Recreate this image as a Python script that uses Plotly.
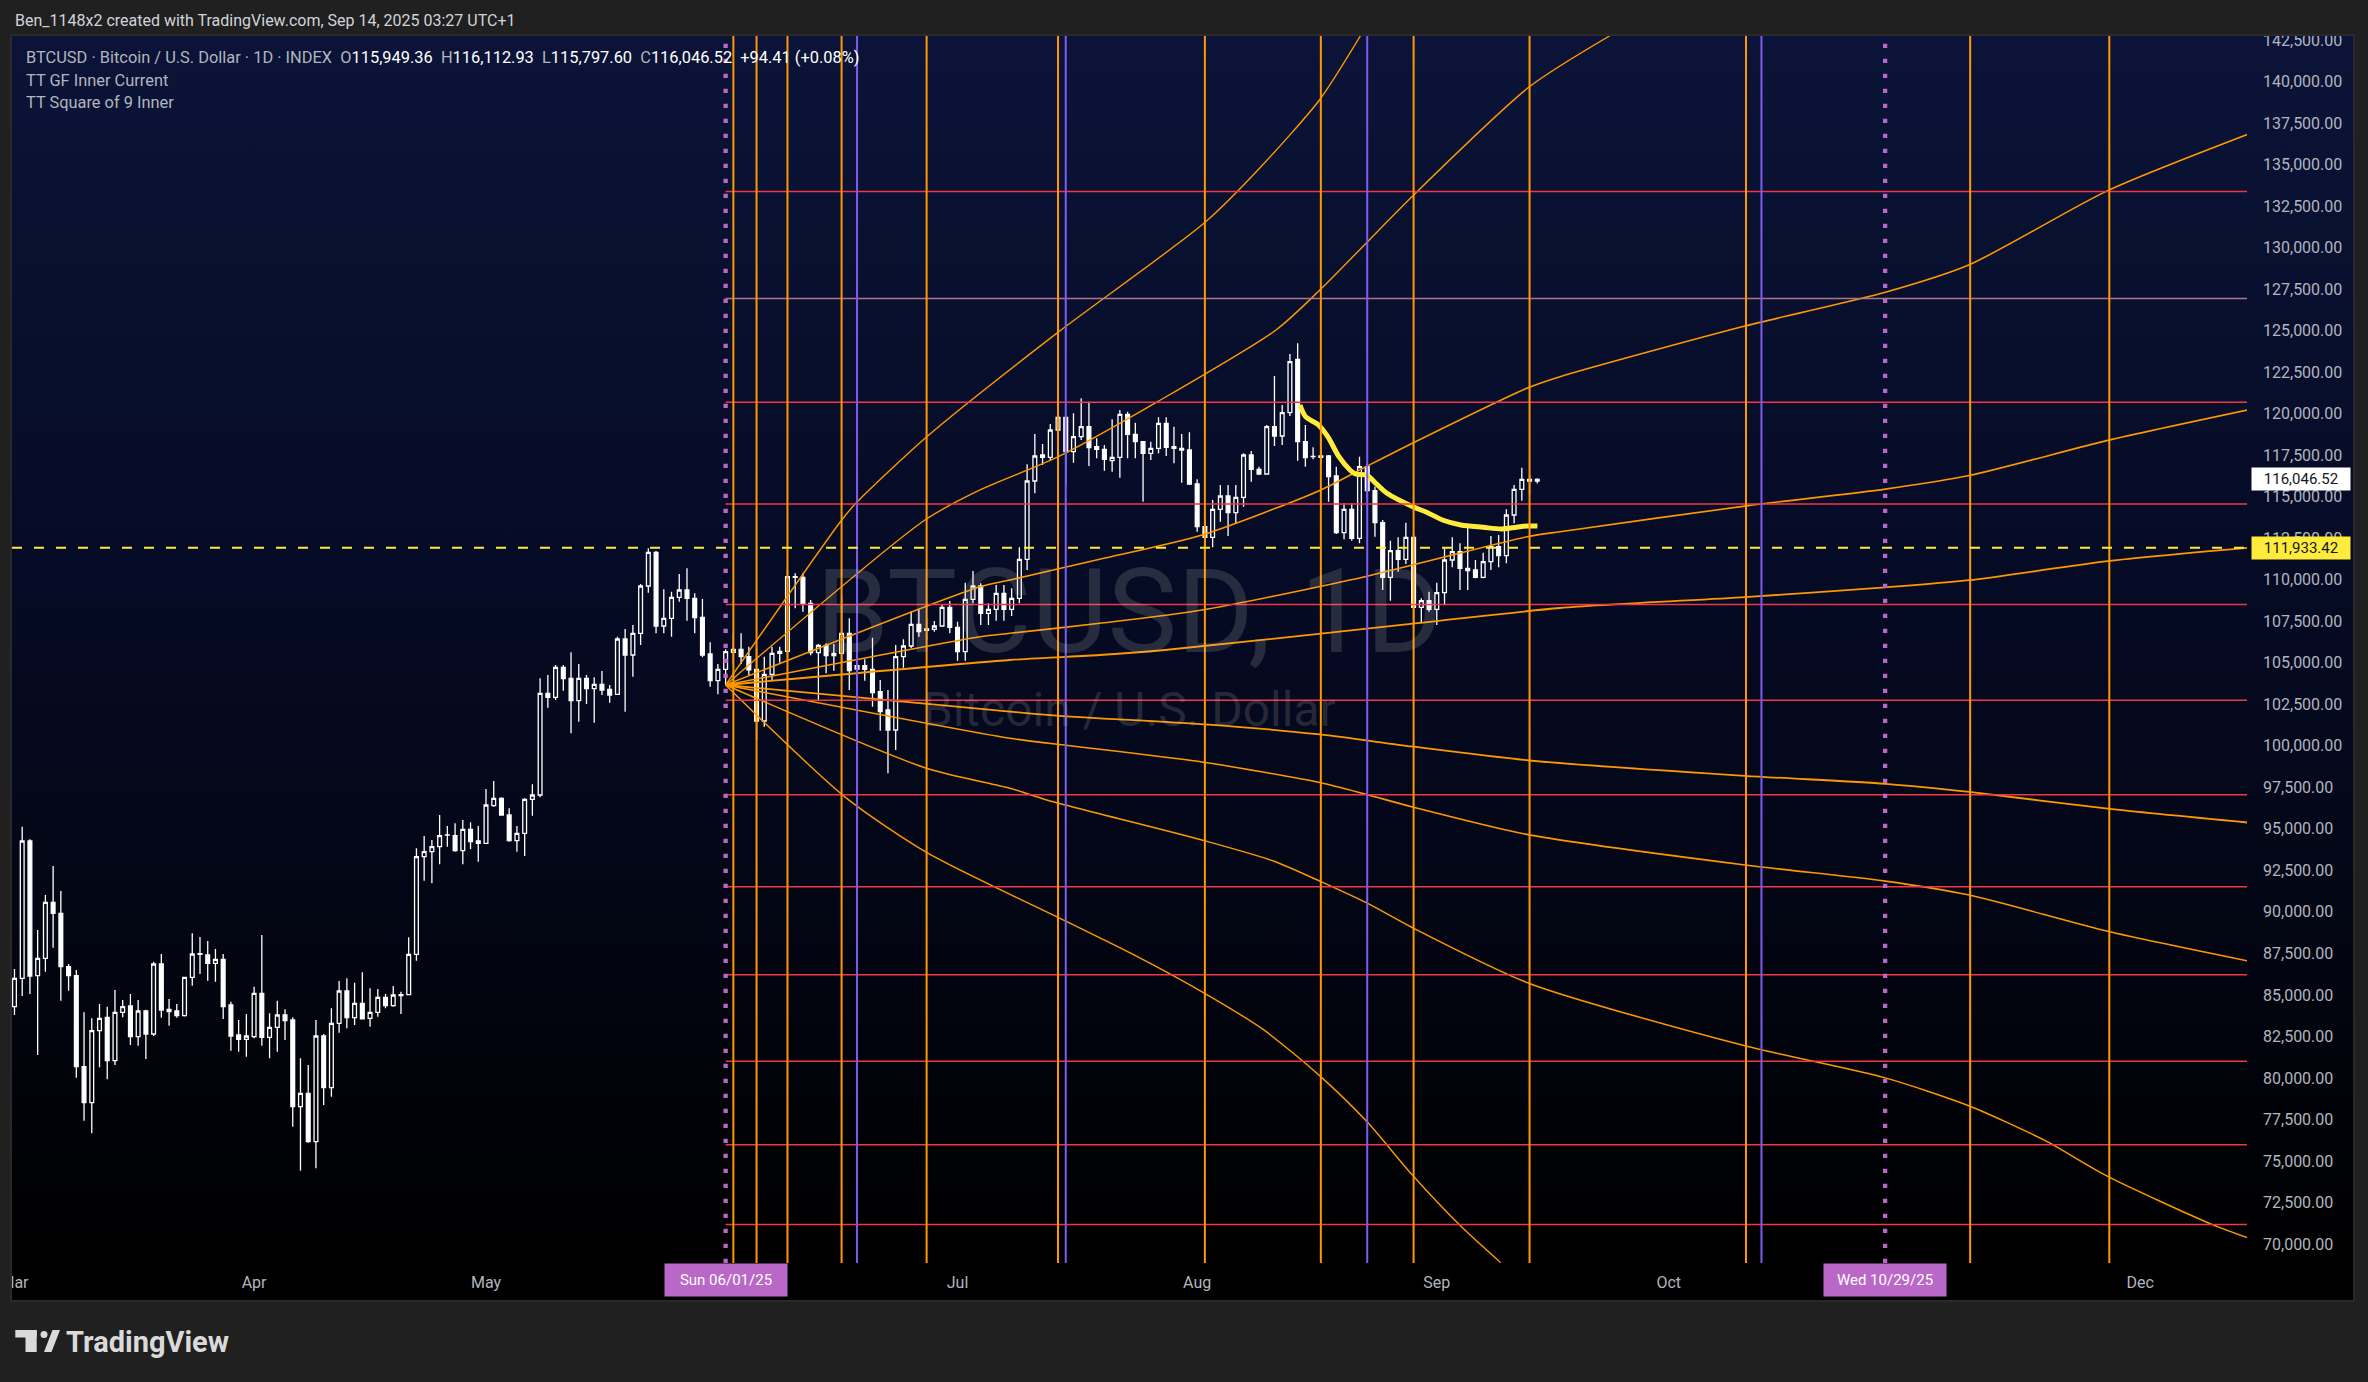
import base64
import pandas as pd
import plotly.graph_objects as go

# ---------------------------------------------------------------- data
FIRST_CANDLE = "2025-03-01"
BASE_DATE = "2025-05-01"          # day offsets below are counted from this date

candle_open = [
    84293, 86000, 94270, 86160, 87204, 90577, 89914, 86702, 86160, 80680,
    78512, 82848, 83651, 81041, 83952, 84333, 82486, 84032, 82647, 86863,
    84133, 84032, 83751, 86060, 87445, 87405, 86903, 87144, 84393, 82587,
    82325, 82486, 85096, 82446, 83048, 83791, 83490, 78270, 79074, 76163,
    82526, 79415, 83289, 85237, 83631, 84494, 83591, 83952, 84855, 84353,
    85016, 85016, 87445, 93327, 93628, 93929, 94632, 94592, 93688, 94973,
    94270, 94130, 96398, 96840, 95836, 94290, 94732, 96780, 97041, 103164,
    102923, 104730, 104067, 102722, 104067, 103445, 103706, 103405, 103104, 106436,
    105472, 106778, 109628, 111656, 107219, 107681, 108946, 109387, 108885, 107741,
    105533, 103927, 104610, 105633, 105814, 105372, 104610, 101498, 104308, 105573,
    105693, 110190, 110150, 108584, 105613, 106055, 105432, 105573, 106778, 104629,
    104830, 104610, 103264, 102160, 100956, 105372, 106015, 107320, 106958, 107019,
    107219, 108343, 107139, 105673, 108825, 109628, 107982, 108223, 109187, 108223,
    108884, 111234, 115952, 117518, 117377, 119024, 119787, 117719, 118622, 119224,
    118020, 117859, 117177, 117377, 119967, 118763, 118321, 117618, 117919, 119425,
    118020, 117919, 117819, 115772, 113202, 112560, 114246, 115049, 114045, 114969,
    117518, 116655, 116374, 119224, 118662, 120068, 123280, 118321, 117417, 117457,
    117457, 116253, 112841, 114246, 112500, 116815, 115370, 113443, 110150, 111756,
    111234, 112560, 108343, 108744, 108223, 109227, 111194, 111696, 110693, 110592,
    110150, 111093, 111997, 111455, 113904, 115450, 116053, 115949.36]
candle_high = [
    86561, 95134, 94370, 88910, 91018, 92765, 91259, 86863, 86501, 83952,
    83590, 84454, 84293, 85297, 84694, 85056, 84694, 84100, 87004, 87465,
    84755, 84454, 86100, 88710, 88489, 88248, 87766, 87465, 84594, 83490,
    83851, 85498, 88609, 83892, 84655, 84133, 83651, 81181, 80780, 83490,
    82647, 84193, 85839, 85999, 85738, 86361, 85397, 85357, 85056, 85538,
    85196, 88469, 93829, 94571, 94330, 95836, 95174, 95334, 95535, 95394,
    95174, 97402, 97884, 96900, 96237, 95174, 96840, 97683, 104067, 104268,
    104870, 104870, 105633, 104931, 104268, 104128, 104509, 103666, 106577, 107039,
    107280, 109749, 111897, 111736, 109427, 109287, 110351, 110692, 109187, 108845,
    106235, 104931, 105814, 106778, 106778, 105975, 105874, 105372, 105975, 105975,
    110592, 110391, 110391, 108785, 106135, 106175, 106135, 108985, 107681, 105512,
    105211, 106517, 103967, 103365, 106075, 106416, 108123, 108223, 107681, 107521,
    108484, 108725, 107481, 109829, 110532, 109789, 108584, 109689, 109689, 109488,
    111957, 116956, 118783, 118180, 119385, 123099, 119927, 120027, 120931, 120730,
    118522, 118120, 119666, 120228, 120128, 119465, 118321, 118321, 119786, 119786,
    119224, 118783, 118883, 116053, 113503, 114808, 115711, 115711, 115711, 117618,
    117759, 116815, 119325, 122276, 120529, 123601, 124243, 119325, 117980, 118582,
    117518, 116815, 114607, 114607, 117417, 116975, 115600, 113603, 112359, 112560,
    113443, 112700, 108884, 109287, 109829, 111897, 112560, 112199, 113363, 111194,
    111636, 112640, 112700, 114246, 115711, 116755, 116314, 116112.93]
candle_low = [
    83791, 84935, 85056, 81383, 86401, 87846, 84654, 85257, 80017, 77427,
    76664, 80640, 79917, 80780, 83651, 81984, 81944, 81141, 82526, 83631,
    83149, 83631, 83700, 85558, 86260, 85859, 85798, 83550, 81643, 81583,
    81282, 82386, 81944, 81181, 81583, 82285, 77066, 74416, 76100, 74557,
    78371, 78873, 82727, 82988, 83189, 83560, 83089, 83691, 84193, 84293,
    83852, 84996, 87064, 91881, 91721, 92865, 93929, 93628, 92865, 93789,
    93026, 94130, 96338, 95796, 94230, 93628, 93367, 95796, 96900, 102301,
    102762, 103325, 100755, 101458, 102522, 101398, 103064, 102602, 103104, 102060,
    104168, 106075, 109227, 106778, 106778, 106577, 108685, 107541, 106778, 105332,
    103566, 103104, 103700, 104971, 104931, 104268, 100354, 101157, 103967, 105011,
    105372, 108283, 108082, 105450, 102763, 104368, 104529, 105011, 103365, 103525,
    103927, 102361, 100916, 98346, 99751, 104710, 105874, 106577, 106376, 106878,
    107179, 106778, 105131, 105131, 108584, 107280, 107280, 107540, 107541, 107822,
    108584, 110592, 115209, 116916, 117217, 117217, 115711, 117056, 118421, 116855,
    117317, 116575, 116514, 116153, 117317, 117317, 114708, 117217, 117618, 117458,
    117016, 115852, 115711, 112901, 112038, 111957, 113503, 112640, 113362, 114406,
    115912, 116314, 116374, 118060, 118120, 119867, 117177, 116815, 117257, 116975,
    114708, 112761, 112440, 112359, 112199, 114908, 112600, 109387, 108744, 110492,
    110954, 107380, 107380, 108082, 107280, 108483, 110753, 109387, 109387, 110090,
    110090, 110592, 110753, 110993, 113402, 114767, 115109, 115797.60]
candle_close = [
    86000, 94270, 86140, 87204, 90577, 89914, 86702, 86160, 80680, 78512,
    82848, 83590, 81041, 83952, 84293, 82486, 84032, 82647, 86863, 84092,
    83992, 83751, 86060, 87465, 87480, 86903, 87144, 84293, 82526, 82325,
    82526, 85096, 82446, 83048, 83791, 83450, 78270, 79074, 76163, 82526,
    79415, 83289, 85237, 83631, 84494, 83560, 83952, 84855, 84353, 84996,
    84956, 87445, 93327, 93628, 93929, 94592, 94640, 93688, 94973, 94230,
    94130, 96438, 96840, 95836, 94290, 94732, 96780, 97041, 103164, 102923,
    104730, 104047, 102722, 104067, 103445, 103706, 103365, 103064, 106436, 105472,
    106778, 109628, 111656, 107219, 107681, 108946, 109387, 108885, 107721, 105472,
    103927, 104610, 105673, 105814, 105372, 104570, 101498, 104308, 105573, 105693,
    110190, 110150, 108584, 105613, 106055, 105432, 105573, 106778, 104529, 104830,
    104610, 103204, 102060, 100956, 105372, 106015, 107320, 106878, 107039, 107219,
    108343, 107139, 105673, 108825, 109628, 107982, 108223, 109187, 108223, 108884,
    111234, 115952, 117458, 117377, 119024, 119783, 117719, 118622, 119224, 117960,
    117859, 117257, 117377, 119967, 118763, 118321, 117618, 117919, 119425, 117980,
    117919, 117819, 115772, 113202, 112560, 114246, 115049, 114045, 114969, 117518,
    116655, 116374, 119224, 118662, 120068, 123139, 118321, 117357, 117437, 117377,
    116213, 112841, 114246, 112500, 116815, 115370, 113443, 110150, 111756, 111234,
    112560, 108343, 108744, 108223, 109227, 111194, 111696, 110693, 110552, 110150,
    111093, 111997, 111455, 113904, 115450, 116053, 115952.11, 116046.52]

# Square-of-9 price levels (red), drawn from the pivot date to the right edge
square9_levels = [133380, 126950, 120700, 114560, 108510, 102750,
                  97060, 91510, 86220, 81000, 75970, 71180]
square9_colors = ["#F23645", "#a8788a", "#F23645", "#F23645", "#F23645", "#F23645",
                  "#F23645", "#F23645", "#F23645", "#F23645", "#F23645", "#F23645"]
square9_start = "2025-06-01"

# time cycle verticals
orange_cycle_dates = ["2025-06-02", "2025-06-05", "2025-06-09", "2025-06-16",
                      "2025-06-27", "2025-07-14", "2025-08-02", "2025-08-17",
                      "2025-08-29", "2025-09-13", "2025-10-11", "2025-11-09",
                      "2025-11-27"]
purple_cycle_dates = ["2025-06-18", "2025-07-15", "2025-08-23", "2025-10-13"]
pink_marker_dates = ["2025-06-01", "2025-10-29"]
pink_marker_labels = ["Sun 06/01/25", "Wed 10/29/25"]

prior_high_level = 111933.42

# Gann-fan curves from the 06/01 pivot: day offsets from BASE_DATE and prices
fan_a_day = [31, 46.02, 48.02, 57.10, 73.98, 93.03, 100.19, 107.87, 113.11]
fan_a_price = [103665, 113603, 114699, 118650, 124901, 131532, 134845, 138928, 142752]
fan_b_day = [31, 56.79, 63.91, 73.98, 86.88, 102.20, 107.87, 119.75, 134.98, 145.34]
fan_b_price = [103665, 113603, 115410, 117397, 120728, 125046, 127449, 133062, 139693, 142752]
fan_c_day = [31, 63.91, 67.79, 79.4, 92.63, 107.94, 113.8, 119.90, 134.73, 138.94,
             162.86, 181.02, 191.89, 209.79, 228.20]
fan_c_price = [103665, 109586, 109989, 111237, 112700, 115400, 116800, 118240, 121553, 122233,
               125281, 127322, 128979, 133441, 136886]
fan_d_day = [31, 63.91, 67.79, 79.4, 92.63, 113.69, 134.73, 138.94, 162.86, 181.02,
             191.89, 209.79, 228.20]
fan_d_price = [103665, 106575, 106779, 107381, 108182, 110188, 112597, 112898, 114440, 115464,
               116277, 118397, 120258]
fan_e_day = [31, 67.79, 79.4, 87.84, 120.83, 138.94, 162.86, 181.02, 191.89, 209.79, 228.20]
fan_e_price = [103665, 105171, 105473, 105774, 107400, 108303, 108960, 109544, 109977, 111128, 111941]
fan_f_day = [31, 67.79, 75.01, 79.4, 93.03, 107.87, 119.75, 134.98, 162.86, 181.02,
             191.89, 209.79, 228.20]
fan_f_price = [103665, 102058, 101781, 101660, 101293, 100690, 99962, 99119, 98197, 97716,
               97228, 96216, 95366]
fan_g_day = [31, 67.79, 75.01, 79.4, 93.03, 107.87, 114.01, 119.75, 134.98, 162.86,
             181.02, 191.89, 209.79, 228.20]
fan_g_price = [103665, 100456, 100034, 99794, 98998, 97788, 97059, 96336, 94637, 92825,
               91855, 91012, 88832, 87019]
fan_h_day = [31, 57.10, 67.79, 72.54, 93.03, 101.85, 107.87, 114.01, 119.75, 134.98,
             162.86, 181.02, 191.89, 201.60, 209.79, 223.35, 228.20]
fan_h_price = [103665, 98631, 97444, 96740, 94276, 93066, 91855, 90524, 89073, 85688,
               81936, 80003, 78311, 76251, 74071, 71168, 70325]
fan_i_day = [31, 46.5, 57.10, 75.01, 83.96, 93.03, 100.58, 107.87, 114.01, 119.75,
             126.16, 131.27]
fan_i_price = [103665, 96900, 93554, 89440, 87381, 85080, 82906, 80123, 77341, 74197,
               71047, 68873]

# "TT GF Inner Current" (thick yellow)
gf_current_day = [105.30, 106.03, 107.70, 108.90, 110.34, 111.77, 112.48, 113.92, 115.11,
                  116.56, 119.91, 121.81, 123.74, 126.12, 128.99, 131.38, 133.30, 134.73, 136.02]
gf_current_price = [120529, 119824, 119324, 118620, 117415, 116614, 116373, 116313, 115813,
                    115211, 114404, 114043, 113603, 113302, 113163, 113061, 113163, 113242, 113242]

# axis ticks (Jun / Nov sit under the date-marker boxes and are not visible)
month_tick_dates = ["2025-03-01", "2025-04-01", "2025-05-01", "2025-07-01",
                    "2025-08-01", "2025-09-01", "2025-10-01", "2025-12-01"]
month_tick_labels = ["Mar", "Apr", "May", "Jul", "Aug", "Sep", "Oct", "Dec"]
price_tick_values = [70000 + 2500 * i for i in range(30)]

# ---------------------------------------------------------------- layout constants
W, H = 2368, 1382
ML, MR, MT, MB = 12, 121, 36, 119
PW, PH = W - ML - MR, H - MT - MB
PX_PER_DAY = 7.73          # horizontal scale of the time axis
BASE_PX = 486              # pixel column of BASE_DATE
Y_RANGE = [68854, 142752]

OUTER_BG = "#202020"
ORANGE = "#FF9800"
PURPLE = "#7E5CF0"
PINK = "#BA68C8"
YELLOW = "#FFEB3B"
AXIS_TXT = "#b2b5be"
FONT = "Roboto"

base = pd.Timestamp(BASE_DATE)


def to_ts(d):
    return base + pd.to_timedelta(d, unit="D")


def ts_str(t):
    return t.strftime("%Y-%m-%d %H:%M:%S")


def pxx(p):
    return (p - ML) / PW


def pyy(p):
    return (H - MB - p) / PH


x_start = to_ts((ML - BASE_PX) / PX_PER_DAY)
x_end = to_ts((ML + PW - BASE_PX) / PX_PER_DAY)

candle_dates = pd.date_range(FIRST_CANDLE, periods=len(candle_open), freq="D")

fig = go.Figure()

# candles
fig.add_trace(go.Candlestick(
    x=candle_dates, open=candle_open, high=candle_high, low=candle_low, close=candle_close,
    increasing=dict(line=dict(color="#ffffff", width=1.3), fillcolor="rgba(0,0,0,0)"),
    decreasing=dict(line=dict(color="#ffffff", width=1.3), fillcolor="#ffffff"),
    whiskerwidth=0, hoverinfo="skip", showlegend=False,
))

# fan curves
fans = [(fan_a_day, fan_a_price, 1.4), (fan_b_day, fan_b_price, 1.4),
        (fan_c_day, fan_c_price, 1.6), (fan_d_day, fan_d_price, 1.6),
        (fan_e_day, fan_e_price, 1.8), (fan_f_day, fan_f_price, 1.8),
        (fan_g_day, fan_g_price, 1.6), (fan_h_day, fan_h_price, 1.5),
        (fan_i_day, fan_i_price, 1.4)]
for days, prices, w in fans:
    fig.add_trace(go.Scatter(
        x=[to_ts(d) for d in days], y=prices, mode="lines",
        line=dict(color=ORANGE, width=w, shape="spline", smoothing=0.7),
        hoverinfo="skip", showlegend=False))

# GF inner current
fig.add_trace(go.Scatter(
    x=[to_ts(d) for d in gf_current_day], y=gf_current_price, mode="lines",
    line=dict(color=YELLOW, width=5, shape="spline", smoothing=0.8),
    hoverinfo="skip", showlegend=False))

shapes = []
# red square-of-9 levels
for lv, col in zip(square9_levels, square9_colors):
    shapes.append(dict(type="line", xref="x", yref="y", x0=square9_start,
                       x1=ts_str(x_end + pd.Timedelta(days=3)), y0=lv, y1=lv,
                       line=dict(color=col, width=1.5), layer="above"))
# verticals
for d in orange_cycle_dates:
    shapes.append(dict(type="line", xref="x", yref="paper", x0=d, x1=d, y0=0, y1=1,
                       line=dict(color=ORANGE, width=2), layer="above"))
for d in purple_cycle_dates:
    shapes.append(dict(type="line", xref="x", yref="paper", x0=d, x1=d, y0=0, y1=1,
                       line=dict(color=PURPLE, width=2), layer="above"))
for d in pink_marker_dates:
    shapes.append(dict(type="line", xref="x", yref="paper", x0=d, x1=d, y0=0, y1=1,
                       line=dict(color=PINK, width=4.3, dash="4.3px,10.7px"), layer="above"))
# prior high dashed line
shapes.append(dict(type="line", xref="paper", yref="y", x0=0, x1=1,
                   y0=prior_high_level, y1=prior_high_level,
                   line=dict(color=YELLOW, width=2, dash="10px,12px"), layer="above"))

# frame pieces (pixel based decoration)
shapes.append(dict(type="rect", xref="paper", yref="paper", x0=pxx(ML), x1=pxx(2353),
                   y0=pyy(1300), y1=pyy(H - MB), fillcolor="#000000", line_width=0, layer="below"))
shapes.append(dict(type="rect", xref="paper", yref="paper", x0=pxx(0), x1=pxx(ML),
                   y0=pyy(1310), y1=pyy(1262), fillcolor=OUTER_BG, line_width=0, layer="above"))
shapes.append(dict(type="rect", xref="paper", yref="paper", x0=pxx(2240), x1=pxx(W),
                   y0=pyy(MT), y1=pyy(0), fillcolor=OUTER_BG, line_width=0, layer="above"))
shapes.append(dict(type="rect", xref="paper", yref="paper", x0=pxx(ML - 1), x1=pxx(2354),
                   y0=pyy(1301), y1=pyy(MT - 1), fillcolor="rgba(0,0,0,0)",
                   line=dict(color="#2c2c2c", width=1.5), layer="above"))
# TradingView logo mark
logo_col = "#dadada"
shapes.append(dict(type="rect", xref="paper", yref="paper", x0=pxx(15.3), x1=pxx(36.7),
                   y0=pyy(1337.5), y1=pyy(1330), fillcolor=logo_col, line_width=0, layer="above"))
shapes.append(dict(type="rect", xref="paper", yref="paper", x0=pxx(25.5), x1=pxx(36.7),
                   y0=pyy(1352), y1=pyy(1330), fillcolor=logo_col, line_width=0, layer="above"))
shapes.append(dict(type="circle", xref="paper", yref="paper", x0=pxx(40.5), x1=pxx(47.5),
                   y0=pyy(1338), y1=pyy(1331), fillcolor=logo_col, line_width=0, layer="above"))
shapes.append(dict(type="path", xref="paper", yref="paper",
                   path=f"M {pxx(44)},{pyy(1352)} L {pxx(51.5)},{pyy(1352)} L {pxx(60)},{pyy(1330)} "
                        f"L {pxx(52.5)},{pyy(1330)} Z",
                   fillcolor=logo_col, line_width=0, layer="above"))

# background gradient image (chart pane + price scale)
svg = ("<svg xmlns='http://www.w3.org/2000/svg' width='10' height='100' viewBox='0 0 10 100' "
       "preserveAspectRatio='none'><defs><linearGradient id='g' x1='0' y1='0' x2='0' y2='1'>"
       "<stop offset='0' stop-color='#0b1438'/><stop offset='0.5' stop-color='#050a22'/>"
       "<stop offset='1' stop-color='#000000'/></linearGradient></defs>"
       "<rect width='10' height='100' fill='url(#g)'/></svg>")
bg_src = "data:image/svg+xml;base64," + base64.b64encode(svg.encode()).decode()

annotations = []
# watermark (symbol + description, one text block)
WM = "rgba(210,210,200,0.17)"
annotations.append(dict(text="<span style='font-size:117px'>BTCUSD, 1D</span><br>"
                             "<span style='font-size:48px'>Bitcoin / U.S. Dollar</span>",
                        xref="paper", yref="paper", x=pxx(1129), y=pyy(640),
                        xanchor="center", yanchor="middle", align="center",
                        showarrow=False, font=dict(family=FONT, size=57, color=WM)))

# header line
annotations.append(dict(text="Ben_1148x2 created with TradingView.com, Sep 14, 2025 03:27 UTC+1",
                        xref="paper", yref="paper", x=pxx(13), y=pyy(20.5), xanchor="left",
                        yanchor="middle", showarrow=False,
                        font=dict(family=FONT, size=16, color="#d1d4dc")))

# legend (top-left)
o, h, l, c = candle_open[-1], candle_high[-1], candle_low[-1], candle_close[-1]
chg = c - candle_close[-2]
pct = chg / candle_close[-2] * 100
G = AXIS_TXT
WH = "#ffffff"
sp = "\u00a0\u00a0"
legend_line = (f"<span style='color:{G}'>BTCUSD · Bitcoin / U.S. Dollar · 1D · INDEX</span>{sp}"
               f"<span style='color:{G}'>O</span><span style='color:{WH}'>{o:,.2f}</span>{sp}"
               f"<span style='color:{G}'>H</span><span style='color:{WH}'>{h:,.2f}</span>{sp}"
               f"<span style='color:{G}'>L</span><span style='color:{WH}'>{l:,.2f}</span>{sp}"
               f"<span style='color:{G}'>C</span><span style='color:{WH}'>{c:,.2f}</span>{sp}"
               f"<span style='color:{WH}'>{chg:+,.2f} ({pct:+.2f}%)</span>")
for txt, yp in [(legend_line, 57), ("TT GF Inner Current", 80), ("TT Square of 9 Inner", 103)]:
    annotations.append(dict(text=txt, xref="paper", yref="paper", x=pxx(24), y=pyy(yp),
                            xanchor="left", yanchor="middle", showarrow=False,
                            font=dict(family=FONT, size=16.4, color=G)))

# price scale labels
annotations.append(dict(text=f"{c:,.2f}", xref="paper", yref="y", x=1, y=c, xanchor="left", xshift=4,
                        yanchor="middle", showarrow=False, bgcolor="#ffffff", borderpad=2, width=94,
                        font=dict(family=FONT, size=15, color="#131722")))
annotations.append(dict(text=f"{prior_high_level:,.2f}", xref="paper", yref="y", x=1, y=prior_high_level,
                        xanchor="left", xshift=4, yanchor="middle", showarrow=False, bgcolor=YELLOW,
                        borderpad=2, width=94, font=dict(family=FONT, size=15, color="#131722")))

# time scale marker labels
for d, lab in zip(pink_marker_dates, pink_marker_labels):
    annotations.append(dict(text=lab, xref="x", yref="paper", x=d, y=0, yanchor="top",
                            xanchor="center", showarrow=False, bgcolor=PINK, borderpad=7, width=108,
                            font=dict(family=FONT, size=15, color="#ffffff")))

# TradingView wordmark
annotations.append(dict(text="<b>TradingView</b>", xref="paper", yref="paper", x=pxx(64), y=pyy(1342),
                        xanchor="left", yanchor="middle", showarrow=False,
                        font=dict(family=FONT, size=29, color=logo_col)))

fig.update_layout(
    width=W, height=H,
    margin=dict(l=ML, r=MR, t=MT, b=MB, pad=0, autoexpand=False),
    paper_bgcolor=OUTER_BG, plot_bgcolor="rgba(0,0,0,0)",
    showlegend=False, hovermode=False,
    shapes=shapes, annotations=annotations,
    images=[dict(source=bg_src, xref="paper", yref="paper", x=pxx(ML), y=pyy(MT),
                 sizex=pxx(2353) - pxx(ML), sizey=1, xanchor="left", yanchor="top",
                 sizing="stretch", layer="below")],
    xaxis=dict(type="date", range=[ts_str(x_start), ts_str(x_end)],
               tickvals=month_tick_dates, ticktext=month_tick_labels,
               showgrid=False, zeroline=False, showline=False, ticks="", automargin=False,
               tickfont=dict(family=FONT, size=16, color=AXIS_TXT),
               ticklabelstandoff=8, rangeslider=dict(visible=False), fixedrange=True),
    yaxis=dict(side="right", range=Y_RANGE, tickvals=price_tick_values, tickformat=",.2f",
               showgrid=False, zeroline=False, showline=False, ticks="", automargin=False,
               tickfont=dict(family=FONT, size=16, color=AXIS_TXT),
               ticklabelstandoff=15, fixedrange=True),
)

fig.write_html("out.html",
               config={"displayModeBar": False, "staticPlot": False},
               post_script="document.body.style.margin='0';"
                           "document.body.style.background='" + OUTER_BG + "';")
